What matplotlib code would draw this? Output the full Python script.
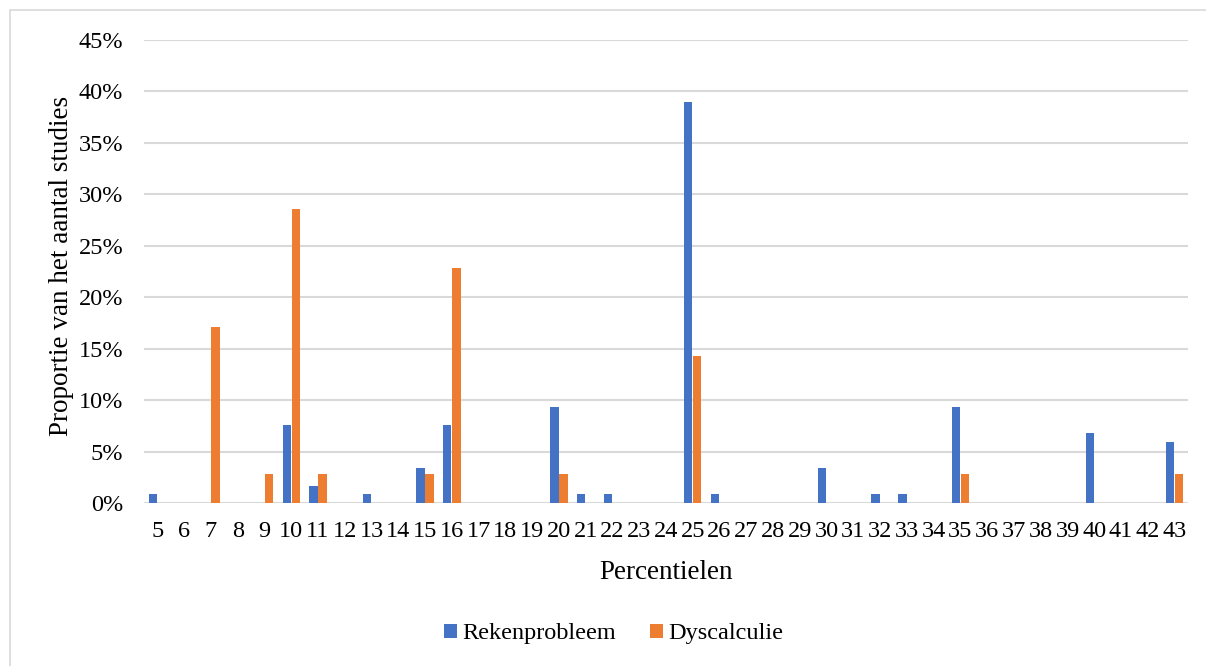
import numpy as np
import matplotlib
matplotlib.use("Agg")
from matplotlib import pyplot as plt
from matplotlib.patches import Rectangle
from matplotlib.ticker import PercentFormatter

percentielen = list(range(5, 44))
# counts out of 118 (Rekenprobleem) and 35 (Dyscalculie) studies
reken_counts = {5: 1, 10: 9, 11: 2, 13: 1, 15: 4, 16: 9, 20: 11, 21: 1, 22: 1,
                25: 46, 26: 1, 30: 4, 32: 1, 33: 1, 35: 11, 40: 8, 43: 7}
dys_counts = {7: 6, 9: 1, 10: 10, 11: 1, 15: 1, 16: 8, 20: 1, 25: 5, 35: 1, 43: 1}
reken = [reken_counts.get(p, 0) / 118 for p in percentielen]
dys = [dys_counts.get(p, 0) / 35 for p in percentielen]

plt.rcParams['font.family'] = ['Liberation Serif', 'DejaVu Serif']

fig = plt.figure(figsize=(12.06, 6.66), dpi=100)
ax = fig.add_axes([144/1206, 1-503/666, (1188-144)/1206, (503-40)/666])

x = np.arange(len(percentielen))
w = 0.31
ax.bar(x - 0.17, reken, w, color='#4472C4', label='Rekenprobleem', zorder=3)
ax.bar(x + 0.17, dys, w, color='#ED7D31', label='Dyscalculie', zorder=3)

ax.set_xlim(-0.5, len(percentielen) - 0.5)
ax.set_ylim(0, 0.45)
ax.set_yticks(np.arange(0, 0.451, 0.05))
ax.yaxis.set_major_formatter(PercentFormatter(1.0, decimals=0))
ax.set_xticks(x)
ax.set_xticklabels([str(p) for p in percentielen])
ax.tick_params(length=0, labelsize=17.5, colors='#000000')
ax.tick_params(axis='y', pad=15)
ax.tick_params(axis='x', pad=13)
ax.grid(axis='y', color='#D9D9D9', linewidth=1.5, zorder=0)
for s in ax.spines.values():
    s.set_visible(False)

ax.set_xlabel('Percentielen', fontsize=19.5)
ax.set_ylabel('Proportie van het aantal studies', fontsize=19.5)
ax.xaxis.set_label_coords(0.5, (503-560)/463)
ax.yaxis.set_label_coords((74-144)/1044, (503-266)/463)

ax.legend(loc='center', bbox_to_anchor=((614-144)/1044, (503-634)/463),
          ncol=2, frameon=False, fontsize=17.5, handlelength=0.5, handleheight=0.5,
          columnspacing=1.4, handletextpad=0.25)

fig.patches.append(Rectangle((10/1206, -0.1), 1.2, 1 - 10/666 + 0.1,
                             transform=fig.transFigure, fill=False,
                             edgecolor='#D9D9D9', linewidth=1.2))

fig.savefig('out.png', dpi=100)
